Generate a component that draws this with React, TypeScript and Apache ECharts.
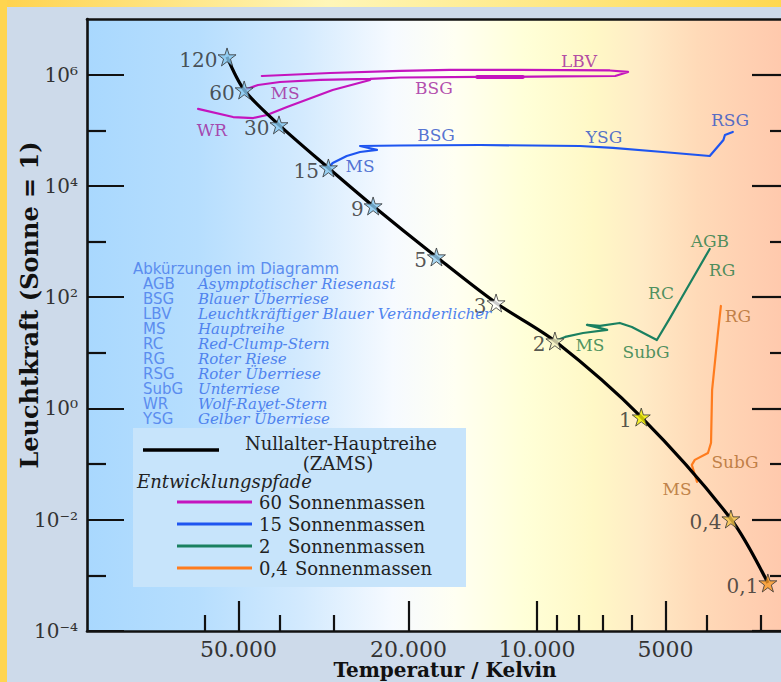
import React, { useEffect, useRef } from "react";
import * as echarts from "echarts";

// ---------- axes ----------
const tempRange = [2683, 113200]; // Kelvin (right edge, left edge)
const lumRange = [1e-4, 1e7];
const xMajorTicks = [50000, 20000, 10000, 5000];
const xMinorTicks = [60000, 40000, 30000, 9000, 8000, 7000, 6000, 4000, 3000];
const yMajorExp = [-4, -2, 0, 2, 4, 6];
const yMinorExp = [-3, -1, 1, 3, 5];

// ---------- ZAMS ----------
const zamsMass = ["120", "60", "30", "15", "9", "5", "3", "2", "1", "0,4", "0,1"];
const zamsTemp = [53200, 48500, 40200, 30800, 24200, 17200, 12470, 9080, 5700, 3515, 2880];
const zamsLum = [2.08e6, 5.3e5, 1.25e5, 2.1e4, 4360, 528, 78.7, 16.3, 0.7, 0.0103, 7.3e-4];
const starFill = ["#86C8F0", "#86C8F0", "#86C8F0", "#86C8F0", "#86C8F0", "#96CFF2", "#FFFFFF", "#F3EFC2", "#F2F000", "#F4C448", "#F79A28"];

// ---------- tracks ----------
const track60Temp = [48500, 45000, 40000, 32200, 24600, 20900, 13600, 8830, 6560, 6120, 6750, 10960, 16000, 20900, 30500, 44100];
const track60Lum = [5.3e5, 6.52e5, 7.38e5, 8.02e5, 8.36e5, 8.89e5, 9.08e5, 9.27e5, 9.46e5, 1.117e6, 1.188e6, 1.213e6, 1.213e6, 1.164e6, 1.071e6, 9.46e5];
const track60WrTemp = [24600, 30100, 38500, 42900, 46200, 51500, 62200];
const track60WrLum = [8.02e5, 5.3e5, 2.62e5, 1.88e5, 1.66e5, 1.73e5, 2.42e5];
const track60BandTemp = [10800, 13800];
const track60BandLum = [9.05e5, 9.05e5];
const track15Temp = [30800, 30100, 27900, 25970, 23700, 25970, 20900, 13600, 7930, 6640, 5070, 3940, 3660, 3630, 3480];
const track15Lum = [2.1e4, 2.58e4, 3.45e4, 4.07e4, 4.43e4, 5.22e4, 5.33e4, 5.44e4, 5.22e4, 4.81e4, 4.07e4, 3.45e4, 6.7e4, 8.24e4, 9.33e4];
const track2Temp = [9080, 8590, 7800, 6850, 7640, 7120, 6400, 5995, 5240, 4880, 4575, 3940];
const track2Lum = [16.3, 19.3, 22.7, 25.8, 31.7, 30.4, 34.4, 29.2, 17.0, 42.4, 101, 736];
const track04Temp = [4220, 4340, 4270, 3978, 3913, 3890, 3770, 3710];
const track04Lum = [0.0478, 0.0966, 0.119, 0.158, 0.24, 2.15, 22.7, 69.5];

// ---------- track annotations ----------
const labels60 = ["LBV", "BSG", "MS", "WR"];
const labels60Temp = [7973, 17430, 38900, 57700];
const labels60Lum = [1.76e6, 5.76e5, 4.68e5, 1.01e5];
const labels15 = ["BSG", "YSG", "RSG", "MS"];
const labels15Temp = [17240, 6966, 3532, 25970];
const labels15Lum = [8.23e4, 7.58e4, 1.53e5, 2.28e4];
const labels2 = ["AGB", "RG", "RC", "SubG", "MS"];
const labels2Temp = [3937, 3687, 5124, 5555, 7515];
const labels2Lum = [1024, 308, 119, 10.4, 13.8];
const labels04 = ["RG", "SubG", "MS"];
const labels04Temp = [3383, 3439, 4700];
const labels04Lum = [46.0, 0.109, 0.0357];

// ---------- legend / abbreviations ----------
const abbrevTitle = "Abkürzungen im Diagramm";
const abbrevCodes = ["AGB", "BSG", "LBV", "MS", "RC", "RG", "RSG", "SubG", "WR", "YSG"];
const abbrevNames = [
  "Asymptotischer Riesenast",
  "Blauer Überriese",
  "Leuchtkräftiger Blauer Veränderlicher",
  "Hauptreihe",
  "Red-Clump-Stern",
  "Roter Riese",
  "Roter Überriese",
  "Unterriese",
  "Wolf-Rayet-Stern",
  "Gelber Überriese",
];
const legendMasses = ["60", "15", "2", "0,4"];
const legendUnit = "Sonnenmassen";

const COL60 = "#C414BE";
const COL15 = "#1E55F0";
const COL2 = "#1A8060";
const COL04 = "#FF7C1E";
const LAB60 = "#A0209A";
const LAB15 = "#2A50C8";
const LAB2 = "#1E7A45";
const LAB04 = "#B06A2A";
const trackColors = [COL60, COL15, COL2, COL04];

const SERIF = '"DejaVu Serif", serif';
const SANS = '"DejaVu Sans", sans-serif';

const lg = Math.log10;
const pts = (T: number[], L: number[]) => T.map((t, i) => [lg(t), lg(L[i])]);
const SUP: Record<string, string> = { "-": "⁻", "0": "⁰", "1": "¹", "2": "²", "3": "³", "4": "⁴", "5": "⁵", "6": "⁶", "7": "⁷", "8": "⁸", "9": "⁹" };
const supStr = (n: number) => String(n).split("").map((c) => SUP[c] || c).join("");
const fmtTemp = (v: number) => {
  const n = Math.round(Math.pow(10, v));
  return n >= 10000 ? String(n).replace(/\B(?=(\d{3})+(?!\d))/g, ".") : String(n);
};

const STAR = "path://M50,0 L61.2,34.5 L97.6,34.5 L68.2,55.9 L79.4,90.5 L50,69.1 L20.6,90.5 L31.8,55.9 L2.4,34.5 L38.8,34.5 Z";

function trackLine(data: number[][], color: string, width = 2.2) {
  return {
    type: "line",
    data,
    symbol: "none",
    smooth: false,
    lineStyle: { color, width, cap: "round", join: "round" },
    z: 2,
    silent: true,
    emphasis: { disabled: true },
  };
}

function annot(names: string[], T: number[], L: number[], color: string) {
  return {
    type: "scatter",
    data: names.map((n, i) => ({ name: n, value: [lg(T[i]), lg(L[i])] })),
    symbolSize: 1,
    itemStyle: { color: "rgba(0,0,0,0)" },
    label: {
      show: true,
      position: "inside",
      formatter: "{b}",
      color,
      fontSize: 17,
      fontFamily: SERIF,
    },
    z: 4,
    silent: true,
    emphasis: { disabled: true },
  };
}

export default function App() {
  const ref = useRef<HTMLDivElement>(null);
  useEffect(() => {
    document.body.style.margin = "0";
    const chart = echarts.init(ref.current!, null, { renderer: "svg" });

    const xMin = lg(tempRange[0]);
    const xMax = lg(tempRange[1]);
    const yMin = lg(lumRange[0]);
    const yMax = lg(lumRange[1]);

    const plotGrad = new echarts.graphic.LinearGradient(0, 0, 1, 0, [
      { offset: 0, color: "#A9D8FE" },
      { offset: 0.16, color: "#B6DEFE" },
      { offset: 0.31, color: "#D3EAFE" },
      { offset: 0.44, color: "#F6FAFF" },
      { offset: 0.53, color: "#FFFFF2" },
      { offset: 0.63, color: "#FFFFD8" },
      { offset: 0.73, color: "#FFF8C6" },
      { offset: 0.8, color: "#FFEBC6" },
      { offset: 0.88, color: "#FFDAB8" },
      { offset: 1, color: "#FFC9AD" },
    ]);
    const topGrad = new echarts.graphic.LinearGradient(0, 0, 1, 0, [
      { offset: 0, color: "#FFD24C" },
      { offset: 0.42, color: "#FFF6B8" },
      { offset: 0.55, color: "#FFF0A0" },
      { offset: 1, color: "#FFD850" },
    ]);

    const axisCommon = {
      type: "value",
      splitLine: { show: false },
      axisPointer: { show: false },
    };
    const tickStyle = { color: "#111", width: 2.2 };

    const xAxis = [
      {
        ...axisCommon,
        min: xMin,
        max: xMax,
        inverse: true,
        position: "bottom",
        axisLine: { show: true, onZero: false, lineStyle: { color: "#111", width: 2.6 } },
        axisTick: { show: true, inside: true, length: 30, customValues: xMajorTicks.map(lg), lineStyle: tickStyle },
        axisLabel: {
          show: true,
          customValues: xMajorTicks.map(lg),
          formatter: fmtTemp,
          margin: 7,
          fontSize: 22,
          color: "#333",
          fontFamily: SERIF,
        },
      },
      {
        ...axisCommon,
        min: xMin,
        max: xMax,
        inverse: true,
        position: "bottom",
        axisLine: { show: false, onZero: false },
        axisTick: { show: true, inside: true, length: 16, customValues: xMinorTicks.map(lg), lineStyle: tickStyle },
        axisLabel: { show: false },
      },
      {
        ...axisCommon,
        min: xMin,
        max: xMax,
        inverse: true,
        position: "top",
        axisLine: { show: true, onZero: false, lineStyle: { color: "#111", width: 2.6 } },
        axisTick: { show: false },
        axisLabel: { show: false },
      },
    ];

    const yAxis = [
      {
        ...axisCommon,
        min: yMin,
        max: yMax,
        position: "left",
        axisLine: { show: true, onZero: false, lineStyle: { color: "#111", width: 2.6 } },
        axisTick: { show: true, inside: true, length: 37, customValues: yMajorExp, lineStyle: tickStyle },
        axisLabel: {
          show: true,
          customValues: yMajorExp,
          formatter: (v: number) => "10" + supStr(Math.round(v)),
          margin: 9,
          fontSize: 20,
          color: "#333",
          fontFamily: SERIF,
        },
      },
      {
        ...axisCommon,
        min: yMin,
        max: yMax,
        position: "left",
        axisLine: { show: false, onZero: false },
        axisTick: { show: true, inside: true, length: 19, customValues: yMinorExp, lineStyle: tickStyle },
        axisLabel: { show: false },
      },
      {
        ...axisCommon,
        min: yMin,
        max: yMax,
        position: "right",
        axisLine: { show: false, onZero: false },
        axisTick: { show: true, inside: true, length: 29, customValues: yMajorExp, lineStyle: tickStyle },
        axisLabel: { show: false },
      },
      {
        ...axisCommon,
        min: yMin,
        max: yMax,
        position: "right",
        axisLine: { show: false, onZero: false },
        axisTick: { show: true, inside: true, length: 11, customValues: yMinorExp, lineStyle: tickStyle },
        axisLabel: { show: false },
      },
    ];

    const starData = zamsMass.map((m, i) => ({
      name: m,
      value: [lg(zamsTemp[i]), lg(zamsLum[i])],
      itemStyle: { color: starFill[i] },
    }));

    const series: any[] = [
      trackLine(pts(track60Temp, track60Lum), COL60),
      trackLine(pts(track60WrTemp, track60WrLum), COL60),
      trackLine(pts(track60BandTemp, track60BandLum), COL60, 4),
      trackLine(pts(track15Temp, track15Lum), COL15),
      trackLine(pts(track2Temp, track2Lum), COL2),
      trackLine(pts(track04Temp, track04Lum), COL04),
      {
        type: "line",
        data: pts(zamsTemp, zamsLum),
        symbol: "none",
        smooth: 0.3,
        lineStyle: { color: "#000", width: 3.2 },
        z: 3,
        silent: true,
        emphasis: { disabled: true },
      },
      {
        type: "scatter",
        data: starData,
        symbol: STAR,
        symbolSize: 18,
        itemStyle: { borderColor: "#333", borderWidth: 1 },
        label: {
          show: true,
          position: "left",
          distance: 0,
          offset: [0, 3],
          formatter: "{b}",
          fontSize: 20,
          color: "#2a2a2a",
          fontFamily: SERIF,
        },
        z: 5,
        silent: true,
        emphasis: { disabled: true },
      },
      annot(labels60, labels60Temp, labels60Lum, LAB60),
      annot(labels15, labels15Temp, labels15Lum, LAB15),
      annot(labels2, labels2Temp, labels2Lum, LAB2),
      annot(labels04, labels04Temp, labels04Lum, LAB04),
    ];

    const txt = (x: number, y: number, text: string, font: string, fill: string, align = "left", extra: any = {}) => ({
      type: "text",
      x,
      y,
      z: 20,
      silent: true,
      ...extra,
      style: { text, font, fill, align, textAlign: align, verticalAlign: "middle", textVerticalAlign: "middle" },
    });

    const graphics: any[] = [
      { type: "rect", shape: { x: 0, y: 0, width: 781, height: 7 }, style: { fill: topGrad }, z: 30, silent: true },
      { type: "rect", shape: { x: 0, y: 0, width: 7, height: 682 }, style: { fill: "#FFD54F" }, z: 30, silent: true },
      txt(29, 305, "Leuchtkraft (Sonne = 1)", `bold 24px ${SERIF}`, "#111", "center", { rotation: Math.PI / 2 }),
      txt(445, 670, "Temperatur / Kelvin", `bold 20px ${SERIF}`, "#111", "center"),
      txt(133, 269, abbrevTitle, `15px ${SANS}`, "#5B8DEF"),
    ];
    abbrevCodes.forEach((c, i) => {
      graphics.push(txt(143, 284 + i * 15, c, `15px ${SANS}`, "#5B8DEF"));
      graphics.push(txt(198, 284 + i * 15, abbrevNames[i], `italic 15px ${SERIF}`, "#4F83EE"));
    });
    graphics.push({ type: "rect", shape: { x: 133, y: 428, width: 333, height: 159 }, style: { fill: "#C7E4FB" }, z: 15, silent: true });
    graphics.push({ type: "line", shape: { x1: 143, y1: 450, x2: 219, y2: 450 }, style: { stroke: "#000", lineWidth: 3.5 }, z: 20, silent: true });
    graphics.push(txt(245, 443, "Nullalter-Hauptreihe", `18px ${SERIF}`, "#222"));
    graphics.push(txt(338, 463, "(ZAMS)", `18px ${SERIF}`, "#222", "center"));
    graphics.push(txt(137, 481, "Entwicklungspfade", `italic 18px ${SERIF}`, "#222"));
    legendMasses.forEach((m, i) => {
      const y = 502 + i * 22;
      graphics.push({ type: "line", shape: { x1: 177, y1: y, x2: 252, y2: y }, style: { stroke: trackColors[i], lineWidth: 3 }, z: 20, silent: true });
      graphics.push(txt(259, y, m, `18px ${SERIF}`, "#222"));
      graphics.push(txt(m === "0,4" ? 295 : 288, y, legendUnit, `18px ${SERIF}`, "#222"));
    });

    chart.setOption({
      animation: false,
      backgroundColor: "#CDDAEA",
      grid: {
        left: 87,
        top: 19,
        width: 694,
        height: 612,
        show: true,
        backgroundColor: plotGrad,
        borderWidth: 0,
        containLabel: false,
      },
      xAxis,
      yAxis,
      series,
      graphic: { elements: graphics },
    });
    return () => chart.dispose();
  }, []);
  return <div ref={ref} style={{ width: 781, height: 682 }} />;
}
